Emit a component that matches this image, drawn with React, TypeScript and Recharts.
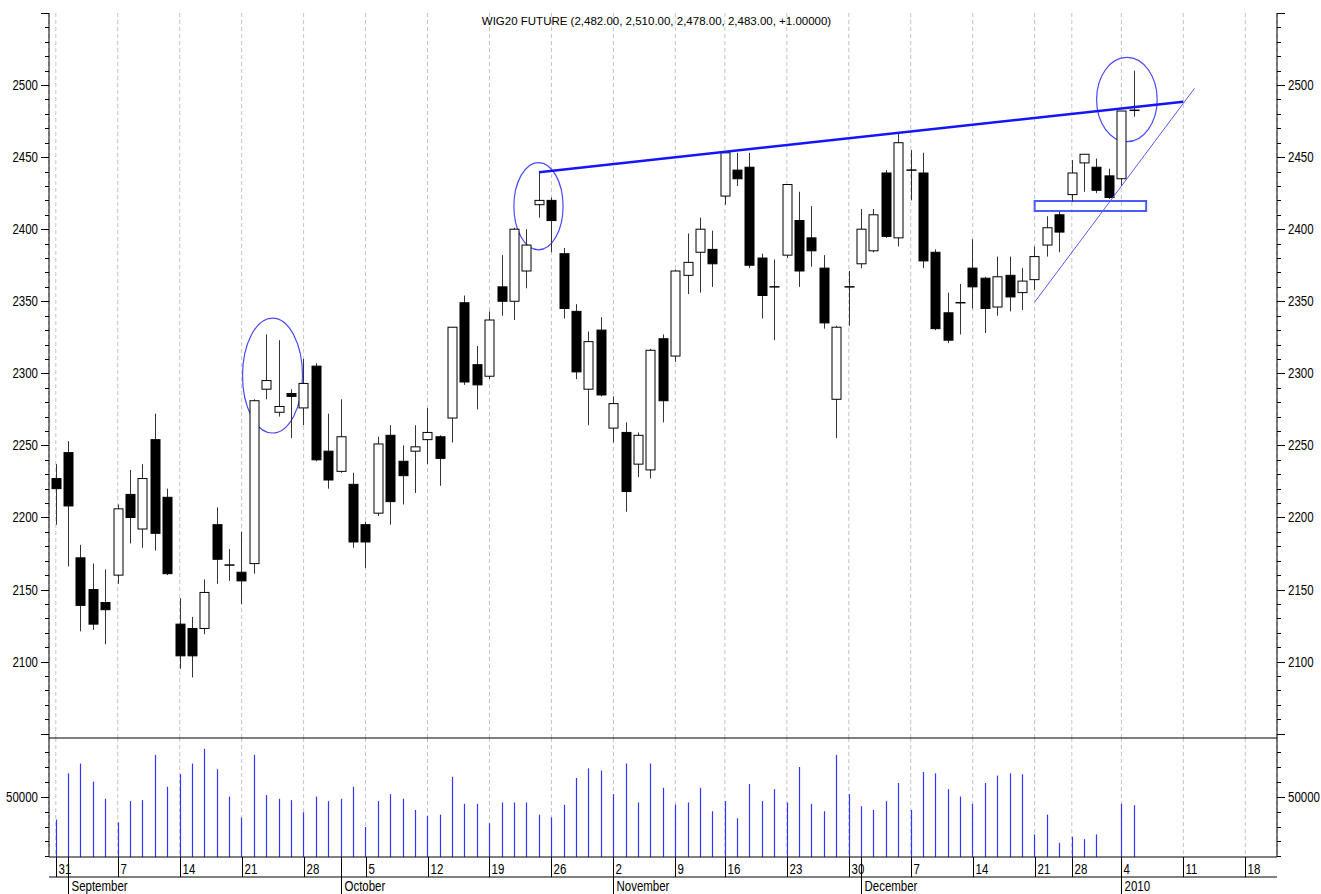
import React from 'react';
import { ComposedChart, Bar, XAxis, YAxis, CartesianGrid, ReferenceLine, ReferenceArea } from 'recharts';

// trading-day slots: 0 = Aug 31 2009, holidays skipped
const opens = [
  2227, 2245, 2172, 2150, 2141, 2160, 2216, 2192, 2254, 2214,
  2126, 2123, 2123, 2195, 2167, 2162, 2168, 2289, 2273, 2286,
  2276, 2305, 2246, 2232, 2223, 2195, 2203, 2257, 2239, 2246,
  2254, 2256, 2269, 2349, 2306, 2298, 2360, 2350, 2371, 2417,
  2420, 2383, 2343, 2289, 2330, 2262, 2259, 2237, 2233, 2324,
  2312, 2368, 2384, 2386, 2423, 2441, 2443, 2380, 2360, 2382,
  2406, 2394, 2373, 2282, 2360, 2376, 2385, 2439, 2394, 2441,
  2439, 2384, 2342, 2349, 2373, 2366, 2346, 2368, 2356, 2365,
  2389, 2410, 2424, 2446, 2443, 2437, 2435, 2482,
];
const highs = [
  2237, 2253, 2181, 2168, 2164, 2209, 2233, 2237, 2272, 2220,
  2144, 2131, 2157, 2207, 2178, 2190, 2282, 2327, 2323, 2289,
  2310, 2307, 2272, 2282, 2231, 2197, 2256, 2264, 2250, 2264,
  2276, 2257, 2332, 2354, 2319, 2343, 2382, 2401, 2400, 2440,
  2422, 2387, 2348, 2329, 2339, 2284, 2266, 2259, 2317, 2327,
  2372, 2397, 2408, 2399, 2454, 2453, 2453, 2383, 2379, 2431,
  2426, 2416, 2382, 2333, 2371, 2414, 2414, 2441, 2467, 2455,
  2453, 2386, 2356, 2362, 2393, 2367, 2381, 2381, 2373, 2388,
  2409, 2412, 2448, 2452, 2449, 2442, 2482, 2510,
];
const lows = [
  2195, 2166, 2121, 2122, 2112, 2154, 2182, 2179, 2177, 2160,
  2095, 2089, 2119, 2154, 2156, 2140, 2161, 2282, 2270, 2255,
  2264, 2239, 2220, 2231, 2179, 2165, 2201, 2195, 2209, 2217,
  2237, 2222, 2252, 2292, 2275, 2296, 2340, 2337, 2359, 2408,
  2384, 2338, 2296, 2264, 2284, 2252, 2204, 2228, 2227, 2266,
  2308, 2355, 2356, 2360, 2417, 2430, 2373, 2338, 2323, 2380,
  2360, 2374, 2331, 2255, 2333, 2373, 2384, 2394, 2388, 2420,
  2373, 2330, 2321, 2327, 2345, 2328, 2340, 2343, 2344, 2358,
  2381, 2384, 2419, 2426, 2425, 2421, 2430, 2478,
];
const closes = [
  2220, 2208, 2139, 2126, 2136, 2206, 2200, 2227, 2189, 2161,
  2104, 2104, 2148, 2171, 2167, 2156, 2281, 2295, 2277, 2284,
  2293, 2240, 2226, 2256, 2183, 2183, 2251, 2211, 2229, 2249,
  2259, 2241, 2332, 2294, 2292, 2337, 2350, 2400, 2389, 2420,
  2406, 2345, 2301, 2322, 2285, 2279, 2218, 2257, 2316, 2281,
  2371, 2377, 2400, 2376, 2453, 2435, 2375, 2354, 2360, 2431,
  2371, 2385, 2335, 2332, 2360, 2400, 2410, 2395, 2460, 2441,
  2378, 2331, 2323, 2349, 2360, 2345, 2367, 2353, 2364, 2381,
  2401, 2398, 2439, 2452, 2427, 2422, 2482, 2483,
];
const volumes = [
  34700, 65800, 72400, 60200, 48700, 32800, 47100, 47800, 78300, 56800,
  65200, 72400, 82300, 68600, 50200, 36000, 78300, 51200, 48700, 47800,
  39600, 50200, 47100, 48700, 56800, 29700, 47100, 51800, 48700, 41200,
  37100, 38000, 63400, 45300, 45300, 32200, 46200, 46200, 46200, 38000,
  36200, 44600, 62700, 69200, 67700, 51800, 72400, 46200, 72400, 56100,
  44800, 46200, 56100, 40300, 47100, 35600, 58600, 47100, 55200, 46200,
  70100, 45300, 40300, 78300, 51800, 43700, 41200, 47100, 59300, 41200,
  66700, 65800, 55200, 50200, 45300, 59300, 64300, 65800, 65200, 24700,
  38000, 19100, 23100, 21500, 24700, null, 45300, 44400,
];

const weekTicks = [0, 5, 10, 15, 20, 25, 30, 35, 40, 45, 50, 54, 59, 64, 69, 74, 79, 82, 86, 91, 96];
const weekLabels = ['31', '7', '14', '21', '28', '5', '12', '19', '26', '2', '9', '16', '23', '30', '7', '14', '21', '28', '4', '11', '18'];
const monthTicks = [1, 23, 45, 65, 86];
const monthLabels = ['September', 'October', 'November', 'December', '2010'];

const priceTicks = Array.from({ length: 51 }, (_, k) => 2050 + k * 10);
const priceLabels = [2100, 2150, 2200, 2250, 2300, 2350, 2400, 2450, 2500];
const volTicks = [10000, 20000, 30000, 40000, 50000, 60000, 70000, 80000];
const volLabels = [50000];

const title = 'WIG20 FUTURE (2,482.00, 2,510.00, 2,478.00, 2,483.00, +1.00000)';

// drawn annotations, in slot / price units
const resistance = [{ x: 39, y: 2439.5 }, { x: 91, y: 2488.5 }];
const support = [{ x: 79, y: 2349.4 }, { x: 91.9, y: 2497.7 }];
const box = { x1: 79, x2: 88, y1: 2412.7, y2: 2419.6 };
const ellipses = [
  { x1: 15.07, x2: 19.91, y1: 2258.6, y2: 2338.3 },
  { x1: 36.97, x2: 40.94, y1: 2385.7, y2: 2446.2 },
  { x1: 84.0, x2: 88.89, y1: 2460.7, y2: 2519.2 },
];

const rows = opens.map((o, i) => ({ i, o, h: highs[i], l: lows[i], c: closes[i], v: volumes[i] }));

const X_DOMAIN = [-0.55, 98.56];
const PRICE_DOMAIN = [2047, 2550];
const VOL_DOMAIN = [9500, 89600];
const FONT = "'Liberation Sans', Arial, sans-serif";
const GRID = '#c4c4c4';
const BLUE = '#1414ff';

const crisp = (v: number) => Math.round(v) + 0.5;

// the source uses a narrow face; squeeze a regular one
const NText = ({ x, y, anchor = 'start', children }: any) => (
  <g transform={`translate(${x},${y}) scale(0.82,1)`}>
    <text x={0} y={0} textAnchor={anchor} fontFamily={FONT} fontSize={14} fill="#000">{children}</text>
  </g>
);

const Candle = (props: any) => {
  const { x, y, width, height, payload } = props;
  if (!payload) return null;
  const { o, h, l, c } = payload;
  const top = Math.min(y, y + height);
  const span = Math.abs(height);
  const k = h === l ? 0 : span / (h - l);
  const py = (p: number) => top + (h - p) * k;
  const cx = crisp(x + width / 2);
  const yo = py(o);
  const yc = py(c);
  const bTop = Math.min(yo, yc);
  const bH = Math.abs(yo - yc);
  const up = c >= o;
  return (
    <g>
      <line x1={cx} x2={cx} y1={top} y2={top + span} stroke="#333" strokeWidth={1} />
      {bH < 2 ? (
        <line x1={cx - 5} x2={cx + 5} y1={bTop + bH / 2} y2={bTop + bH / 2} stroke="#000" strokeWidth={up ? 1.5 : 2.5} />
      ) : (
        <rect x={cx - 4.5} y={bTop} width={9} height={bH} fill={up ? '#fff' : '#000'} stroke="#000" strokeWidth={1} />
      )}
    </g>
  );
};

const VolBar = (props: any) => {
  const { x, y, width, height } = props;
  if (!height) return null;
  const cx = crisp(x + width / 2);
  return <line x1={cx} x2={cx} y1={y} y2={y + height} stroke="#3535ff" strokeWidth={1.2} />;
};

const Oval = (p: any) => {
  const w = Math.abs(p.width);
  const h = Math.abs(p.height);
  const x = Math.min(p.x, p.x + p.width);
  const y = Math.min(p.y, p.y + p.height);
  return <ellipse cx={x + w / 2} cy={y + h / 2} rx={w / 2} ry={h / 2} fill="none" stroke="#4848ff" strokeWidth={1.2} />;
};

const ValueTick = (props: any) => {
  const { x, y, payload, side, labels, majorStep } = props;
  const v = payload.value;
  const dir = side === 'left' ? -1 : 1;
  const len = v % majorStep === 0 ? 8 : 4;
  const yy = crisp(y);
  return (
    <g>
      <line x1={x} x2={x + dir * len} y1={yy} y2={yy} stroke="#000" strokeWidth={1} />
      {labels.includes(v) && (
        <NText x={x + dir * 11} y={y + 5} anchor={side === 'left' ? 'end' : 'start'}>{v}</NText>
      )}
    </g>
  );
};

const WeekTick = (props: any) => {
  const { x, y, payload } = props;
  const idx = weekTicks.indexOf(payload.value);
  const xx = crisp(x);
  return (
    <g>
      <line x1={xx} x2={xx} y1={y} y2={y + 20} stroke="#000" strokeWidth={1} />
      <NText x={xx + 2} y={y + 16.5}>{weekLabels[idx]}</NText>
    </g>
  );
};

const MonthTick = (props: any) => {
  const { x, y, payload } = props;
  const idx = monthTicks.indexOf(payload.value);
  const xx = crisp(x);
  return (
    <g>
      <line x1={xx} x2={xx} y1={y - 20} y2={y + 17} stroke="#000" strokeWidth={1} />
      <NText x={xx + 3} y={y + 14}>{monthLabels[idx]}</NText>
    </g>
  );
};

export default function App() {
  return (
    <div style={{ position: 'relative', width: 1321, height: 894, background: '#fff', overflow: 'hidden' }}>
      <style>{'body{margin:0;background:#fff}'}</style>

      <div style={{ position: 'absolute', left: 0, top: 0 }}>
        <ComposedChart width={1321} height={738} data={rows} margin={{ top: 13, right: 0, bottom: 0, left: 0 }}>
          <XAxis dataKey="i" type="number" domain={X_DOMAIN} allowDataOverflow ticks={weekTicks} interval={0} hide />
          <YAxis yAxisId="L" orientation="left" width={49} type="number" domain={PRICE_DOMAIN} allowDataOverflow
            ticks={priceTicks} interval={0} tickSize={0} tickMargin={0} tickLine={false} axisLine={{ stroke: '#000' }}
            tick={(p: any) => <ValueTick {...p} side="left" labels={priceLabels} majorStep={50} />} />
          <YAxis yAxisId="R" orientation="right" width={44} type="number" domain={PRICE_DOMAIN} allowDataOverflow
            ticks={priceTicks} interval={0} tickSize={0} tickMargin={0} tickLine={false} axisLine={{ stroke: '#000' }}
            tick={(p: any) => <ValueTick {...p} side="right" labels={priceLabels} majorStep={50} />} />
          <CartesianGrid yAxisId="L" horizontal={false} stroke={GRID} strokeDasharray="4 3" />
          <Bar yAxisId="L" dataKey={(d: any) => [d.l, d.h]} barSize={10} shape={(p: any) => <Candle {...p} />} isAnimationActive={false} />
          <ReferenceLine yAxisId="L" segment={resistance} stroke={BLUE} strokeWidth={2.5} />
          <ReferenceLine yAxisId="L" segment={support} stroke="#5a5aff" strokeWidth={1} />
          <ReferenceArea yAxisId="L" x1={box.x1} x2={box.x2} y1={box.y1} y2={box.y2} fill="none" fillOpacity={0}
            stroke="#4a5cff" strokeWidth={2} />
          {ellipses.map((e, k) => (
            <ReferenceArea key={'e' + k} yAxisId="L" x1={e.x1} x2={e.x2} y1={e.y1} y2={e.y2} shape={(p: any) => <Oval {...p} />} />
          ))}
        </ComposedChart>
      </div>

      <div style={{ position: 'absolute', left: 0, top: 737 }}>
        <ComposedChart width={1321} height={157} data={rows} margin={{ top: 1, right: 0, bottom: 0, left: 0 }}>
          <XAxis xAxisId="a" dataKey="i" type="number" domain={X_DOMAIN} allowDataOverflow ticks={weekTicks} interval={0}
            height={20} tickSize={0} tickMargin={0} tickLine={false} axisLine={{ stroke: '#000' }}
            tick={(p: any) => <WeekTick {...p} />} />
          <XAxis xAxisId="b" dataKey="i" type="number" domain={X_DOMAIN} allowDataOverflow ticks={monthTicks} interval={0}
            height={17} tickSize={0} tickMargin={0} tickLine={false} axisLine={{ stroke: '#000' }}
            tick={(p: any) => <MonthTick {...p} />} />
          <YAxis yAxisId="L" orientation="left" width={49} type="number" domain={VOL_DOMAIN} allowDataOverflow
            ticks={volTicks} interval={0} tickSize={0} tickMargin={0} tickLine={false} axisLine={{ stroke: '#000' }}
            tick={(p: any) => <ValueTick {...p} side="left" labels={volLabels} majorStep={50000} />} />
          <YAxis yAxisId="R" orientation="right" width={44} type="number" domain={VOL_DOMAIN} allowDataOverflow
            ticks={volTicks} interval={0} tickSize={0} tickMargin={0} tickLine={false} axisLine={{ stroke: '#000' }}
            tick={(p: any) => <ValueTick {...p} side="right" labels={volLabels} majorStep={50000} />} />
          <CartesianGrid xAxisId="a" yAxisId="L" horizontal={false} stroke={GRID} strokeDasharray="4 3" />
          <ReferenceLine xAxisId="a" yAxisId="L" y={VOL_DOMAIN[1]} stroke="#000" />
          <Bar xAxisId="a" yAxisId="L" dataKey="v" barSize={2} shape={(p: any) => <VolBar {...p} />} isAnimationActive={false} />
        </ComposedChart>
      </div>

      <div style={{ position: 'absolute', left: 0, top: 15, width: 1321, textAlign: 'center', pointerEvents: 'none',
        fontFamily: FONT, fontSize: 11.5, lineHeight: '13px', color: '#000' }}>
        <span style={{ position: 'relative', left: -4 }}>{title}</span>
      </div>
    </div>
  );
}
